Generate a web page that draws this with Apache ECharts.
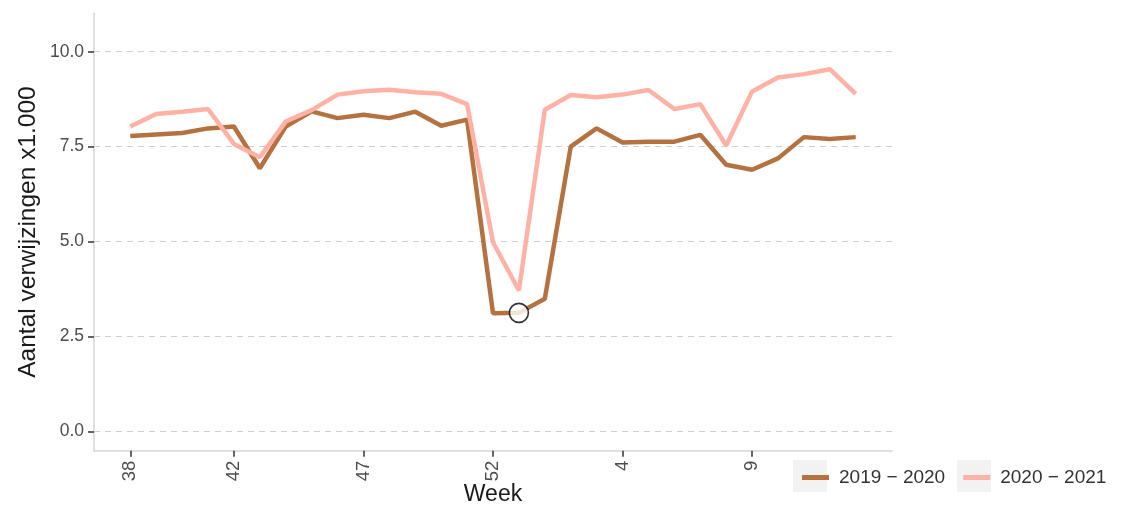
<!DOCTYPE html>
<html>
<head>
<meta charset="utf-8">
<script src="https://cdn.jsdelivr.net/npm/echarts@6/dist/echarts.min.js"></script>
<style>
html,body{margin:0;padding:0;background:#fff;}
#chart{width:1127px;height:512px;}
</style>
</head>
<body>
<div id="chart"></div>
<script>
// Weeks (x categories, in order)
const weeks = ['38','39','40','41','42','43','44','45','46','47','48','49','50','51','52','53',
               '1','2','3','4','5','6','7','8','9','10','11','12','13'];
// Referrals x1.000
const season2019 = [7.78,7.82,7.86,7.98,8.03,6.93,8.03,8.43,8.25,8.34,8.25,8.42,8.05,8.21,3.11,3.12,
                    3.49,7.50,7.98,7.61,7.63,7.63,7.81,7.02,6.89,7.19,7.75,7.70,7.75];
const season2020 = [8.03,8.36,8.42,8.49,7.57,7.22,8.16,8.46,8.87,8.96,9.00,8.93,8.89,8.62,4.98,3.71,
                    8.47,8.86,8.80,8.87,8.99,8.49,8.62,7.53,8.95,9.32,9.41,9.54,8.89];
const seriesNames = ['2019 \u2212 2020', '2020 \u2212 2021'];
const xTickLabels = ['38','42','47','52','4','9'];
const yTicks = [0, 2.5, 5, 7.5, 10];
const highlightWeekIndex = 15;

const xTickPos = xTickLabels.map(l => weeks.indexOf(l));
const FONT = '"Liberation Sans", Arial, sans-serif';
const C1 = '#b3723f', C2 = '#ffb2a5';

const chart = echarts.init(document.getElementById('chart'), null, {renderer: 'canvas'});
chart.setOption({
  animation: false,
  backgroundColor: '#ffffff',
  grid: {left: 94, right: 235, top: 13.3, bottom: 61.3, containLabel: false, outerBoundsMode: 'none'},
  xAxis: {
    type: 'value',
    min: -1.4, max: 29.4,
    name: 'Week',
    nameLocation: 'middle',
    nameGap: 32,
    nameMoveOverlap: false,
    nameTextStyle: {fontFamily: FONT, fontSize: 23, color: '#1a1a1a'},
    axisLine: {show: true, onZero: false, lineStyle: {color: '#d6d6d6', width: 1.5}},
    axisTick: {show: true, customValues: xTickPos, length: 6, lineStyle: {color: '#333', width: 1.5}},
    axisLabel: {
      customValues: xTickPos, rotate: 90, margin: 10,
      fontFamily: FONT, fontSize: 18.5, color: '#4d4d4d',
      formatter: v => weeks[Math.round(v)]
    },
    splitLine: {show: false}
  },
  yAxis: {
    type: 'value',
    min: -0.511, max: 11.012,
    name: 'Aantal verwijzingen x1.000',
    nameLocation: 'middle',
    nameRotate: 90,
    nameGap: 53,
    nameMoveOverlap: false,
    nameTextStyle: {fontFamily: FONT, fontSize: 24.5, color: '#1a1a1a'},
    axisLine: {show: true, onZero: false, lineStyle: {color: '#d6d6d6', width: 1.5}},
    axisTick: {show: true, customValues: yTicks, length: 6, lineStyle: {color: '#333', width: 1.5}},
    axisLabel: {
      customValues: yTicks, margin: 10,
      fontFamily: FONT, fontSize: 17.5, color: '#4d4d4d',
      formatter: v => v.toFixed(1)
    },
    splitLine: {show: true, lineStyle: {color: '#d0d0d0', width: 1, type: [6, 5]}}
  },
  legend: {
    data: seriesNames,
    left: 797, top: 463,
    icon: 'rect', itemWidth: 27, itemHeight: 5,
    itemGap: 18,
    textStyle: {fontFamily: FONT, fontSize: 19, color: '#333', padding: [0, 0, 0, 5]}
  },
  graphic: [
    {type: 'rect', shape: {x: 793, y: 460, width: 34, height: 32}, style: {fill: '#f2f2f2'}, z: -1},
    {type: 'rect', shape: {x: 957, y: 460, width: 34, height: 32}, style: {fill: '#f2f2f2'}, z: -1}
  ],
  series: [
    {
      name: seriesNames[0], type: 'line', showSymbol: false, z: 2,
      color: C1,
      lineStyle: {color: C1, width: 4.5},
      data: season2019.map((v, i) => [i, v])
    },
    {
      name: seriesNames[1], type: 'line', showSymbol: false, z: 3,
      color: C2,
      lineStyle: {color: C2, width: 4.5},
      data: season2020.map((v, i) => [i, v])
    },
    {
      name: 'highlight', type: 'scatter', z: 5,
      symbol: 'circle', symbolSize: 19,
      itemStyle: {color: '#ffffff', borderColor: '#000000', borderWidth: 1.6},
      data: [[highlightWeekIndex, season2019[highlightWeekIndex]]]
    }
  ]
});
</script>
</body>
</html>
